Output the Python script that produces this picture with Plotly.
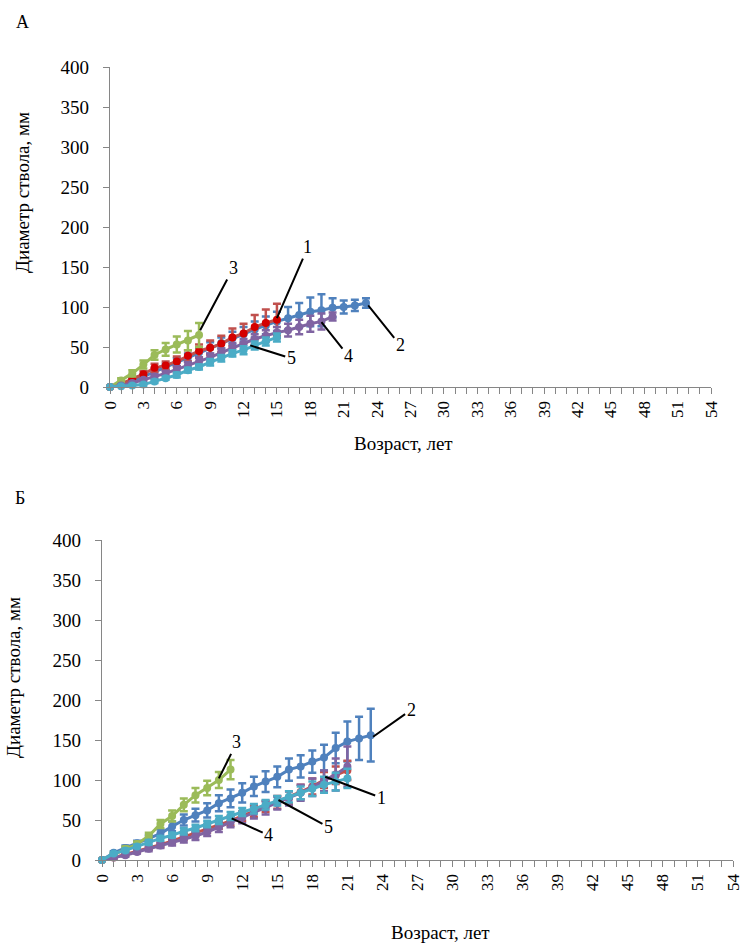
import plotly.graph_objects as go

# ---------------- data ----------------
tick_vals = list(range(0, 55, 3))
tick_labels = [str(v) for v in tick_vals]
y_ticks = [0, 50, 100, 150, 200, 250, 300, 350, 400]

# Panel A
a1_y = [0, 4, 10, 16, 24, 27, 32, 39, 45, 49, 54, 62, 67, 75, 80, 84]
a1_e = [0, 2, 3, 4, 5, 5, 6, 7, 8, 9, 10, 11, 12, 15, 17, 20]
a2_y = [0, 3, 8, 13, 19, 25, 31, 37, 43, 49, 55, 61, 66, 72, 77, 82, 86, 90, 94, 96, 99, 100, 102, 105]
a2_e = [0, 1, 2, 3, 4, 4, 5, 5, 6, 7, 7, 8, 9, 10, 11, 12, 14, 15, 18, 20, 12, 8, 7, 6]
a3_y = [0, 8, 17, 28, 40, 47, 53, 58, 65]
a3_e = [0, 3, 4, 5, 6, 8, 10, 12, 15]
a4_y = [0, 2, 5, 9, 13, 17, 22, 27, 32, 37, 43, 49, 54, 60, 64, 68, 71, 75, 79, 82, 88]
a4_e = [0, 1, 2, 2, 3, 3, 4, 4, 5, 5, 5, 6, 6, 6, 7, 7, 8, 9, 10, 10, 5]
a5_y = [0, 1, 2, 3, 7, 11, 15, 21, 25, 31, 36, 42, 46, 52, 57, 62]
a5_e = [0, 1, 1, 1, 2, 2, 3, 3, 3, 4, 4, 4, 5, 5, 5, 5]

# Panel B
b1_y = [0, 3, 7, 11, 15, 19, 24, 29, 34, 39, 44, 49, 55, 61, 67, 72, 78, 85, 92, 100, 106, 112]
b1_e = [0, 1, 2, 2, 2, 3, 3, 4, 4, 5, 5, 6, 6, 7, 7, 8, 8, 9, 10, 10, 11, 12]
b2_y = [0, 9, 15, 21, 27, 33, 42, 50, 56, 62, 71, 77, 84, 92, 98, 104, 113, 117, 123, 128, 140, 148, 152, 156]
b2_e = [0, 2, 3, 3, 4, 5, 6, 7, 8, 9, 10, 11, 12, 12, 13, 13, 14, 14, 14, 16, 19, 25, 27, 33]
b3_y = [0, 7, 14, 20, 30, 45, 55, 69, 81, 90, 100, 113]
b3_e = [0, 2, 3, 3, 4, 5, 7, 8, 9, 9, 10, 12]
b4_y = [0, 3, 6, 10, 14, 18, 22, 26, 30, 35, 41, 47, 53, 59, 65, 71, 77, 84, 91, 99, 107, 117]
b4_e = [0, 1, 2, 2, 3, 3, 4, 4, 5, 5, 6, 6, 7, 7, 8, 8, 9, 10, 11, 13, 20, 25]
b5_y = [0, 8, 12, 17, 22, 27, 31, 36, 40, 45, 50, 55, 60, 64, 69, 74, 79, 84, 89, 94, 98, 102]
b5_e = [0, 1, 2, 2, 3, 3, 3, 4, 4, 4, 5, 5, 5, 6, 6, 6, 7, 8, 9, 10, 11, 12]

# ---------------- style ----------------
C_BLUE = "#4F81BD"
C_RED = "#C0504D"
C_RED_M = "#D40000"
C_GREEN = "#9BBB59"
C_PURPLE = "#8064A2"
C_TEAL = "#4BACC6"
FONT = "Times New Roman, Liberation Serif, DejaVu Serif, serif"
AXC = "#868686"

fig = go.Figure()


def add(y, e, color, xa, ya, mcolor=None):
    fig.add_trace(go.Scatter(
        x=list(range(len(y))), y=y, mode="lines+markers",
        line=dict(color=color, width=3),
        marker=dict(color=mcolor or color, size=8),
        error_y=dict(type="data", array=e, visible=True, color=color,
                     thickness=2.5, width=4),
        xaxis=xa, yaxis=ya, cliponaxis=False, showlegend=False,
    ))


# draw order: blue, red, green, purple, teal
add(a2_y, a2_e, C_BLUE, "x", "y")
add(a1_y, a1_e, C_RED, "x", "y", C_RED_M)
add(a3_y, a3_e, C_GREEN, "x", "y")
add(a4_y, a4_e, C_PURPLE, "x", "y")
add(a5_y, a5_e, C_TEAL, "x", "y")

add(b2_y, b2_e, C_BLUE, "x2", "y2")
add(b1_y, b1_e, C_RED, "x2", "y2")
add(b3_y, b3_e, C_GREEN, "x2", "y2")
add(b4_y, b4_e, C_PURPLE, "x2", "y2")
add(b5_y, b5_e, C_TEAL, "x2", "y2")

W, H = 743, 943


def xaxis(x0, x1, anchor):
    return dict(
        domain=[x0 / W, x1 / W], range=[0, 54], anchor=anchor,
        automargin=False, ticklabeloverflow="allow",
        tickmode="array", tickvals=tick_vals, ticktext=tick_labels,
        tickangle=-90, ticks="outside", ticklen=6, tickcolor=AXC,
        minor=dict(dtick=1, tick0=0, ticks="outside", ticklen=6, tickcolor=AXC),
        showline=True, linecolor=AXC, linewidth=1.3, showgrid=False,
        zeroline=False, tickfont=dict(family=FONT, size=17, color="black"),
        fixedrange=True,
    )


def yaxis(y0, y1, anchor):
    return dict(
        domain=[(H - y1) / H, (H - y0) / H], range=[0, 400], anchor=anchor,
        automargin=False,
        tickmode="array", tickvals=y_ticks,
        ticks="outside", ticklen=6, tickcolor=AXC, ticklabelstandoff=10,
        showline=True, linecolor=AXC, linewidth=1.3, showgrid=False,
        zeroline=False, tickfont=dict(family=FONT, size=19, color="black"),
        fixedrange=True,
    )


fig.update_layout(
    width=W, height=H, margin=dict(l=0, r=0, t=0, b=0, autoexpand=False),
    paper_bgcolor="white", plot_bgcolor="white",
    xaxis=xaxis(110, 711, "y"), yaxis=yaxis(67, 387, "x"),
    xaxis2=xaxis(102, 733, "y2"), yaxis2=yaxis(540, 860, "x2"),
    font=dict(family=FONT, color="black"),
)

ann = []


def txt(x, y, s, size=18, angle=0):
    ann.append(dict(x=x / W, y=(H - y) / H, xref="paper", yref="paper",
                    text=s, showarrow=False, textangle=angle,
                    font=dict(family=FONT, size=size, color="black"),
                    xanchor="center", yanchor="middle"))


txt(22, 22, "А", 18)
txt(20, 498, "Б", 18)
txt(22, 193, "Диаметр ствола, мм", 19, -90)
txt(13, 678, "Диаметр ствола, мм", 19, -90)
txt(403, 443, "Возраст, лет", 19)
txt(440, 932, "Возраст, лет", 19)


def lab(xref, yref, x, y, s, ax, ay):
    ann.append(dict(x=x, y=y, xref=xref, yref=yref, text=s, showarrow=True,
                    arrowhead=0, arrowwidth=2, arrowcolor="black",
                    ax=ax, ay=ay, standoff=0,
                    font=dict(family=FONT, size=18, color="black")))


# Panel A leader labels
lab("x", "y", 15, 86, "1", 31, -71)
lab("x", "y", 23.2, 102, "2", 32, 40)
lab("x", "y", 8.1, 71, "3", 33, -62)
lab("x", "y", 19, 81, "4", 27, 34)
lab("x", "y", 12.6, 52, "5", 41, 13)
# Panel B leader labels
lab("x2", "y2", 23.2, 154, "2", 38, -27)
lab("x2", "y2", 10, 102, "3", 18, -36)
lab("x2", "y2", 19.1, 104, "1", 56, 21)
lab("x2", "y2", 15.1, 75, "5", 50, 27)
lab("x2", "y2", 11.1, 52, "4", 37, 17)

fig.update_layout(annotations=ann)
fig.write_html("out.html")
